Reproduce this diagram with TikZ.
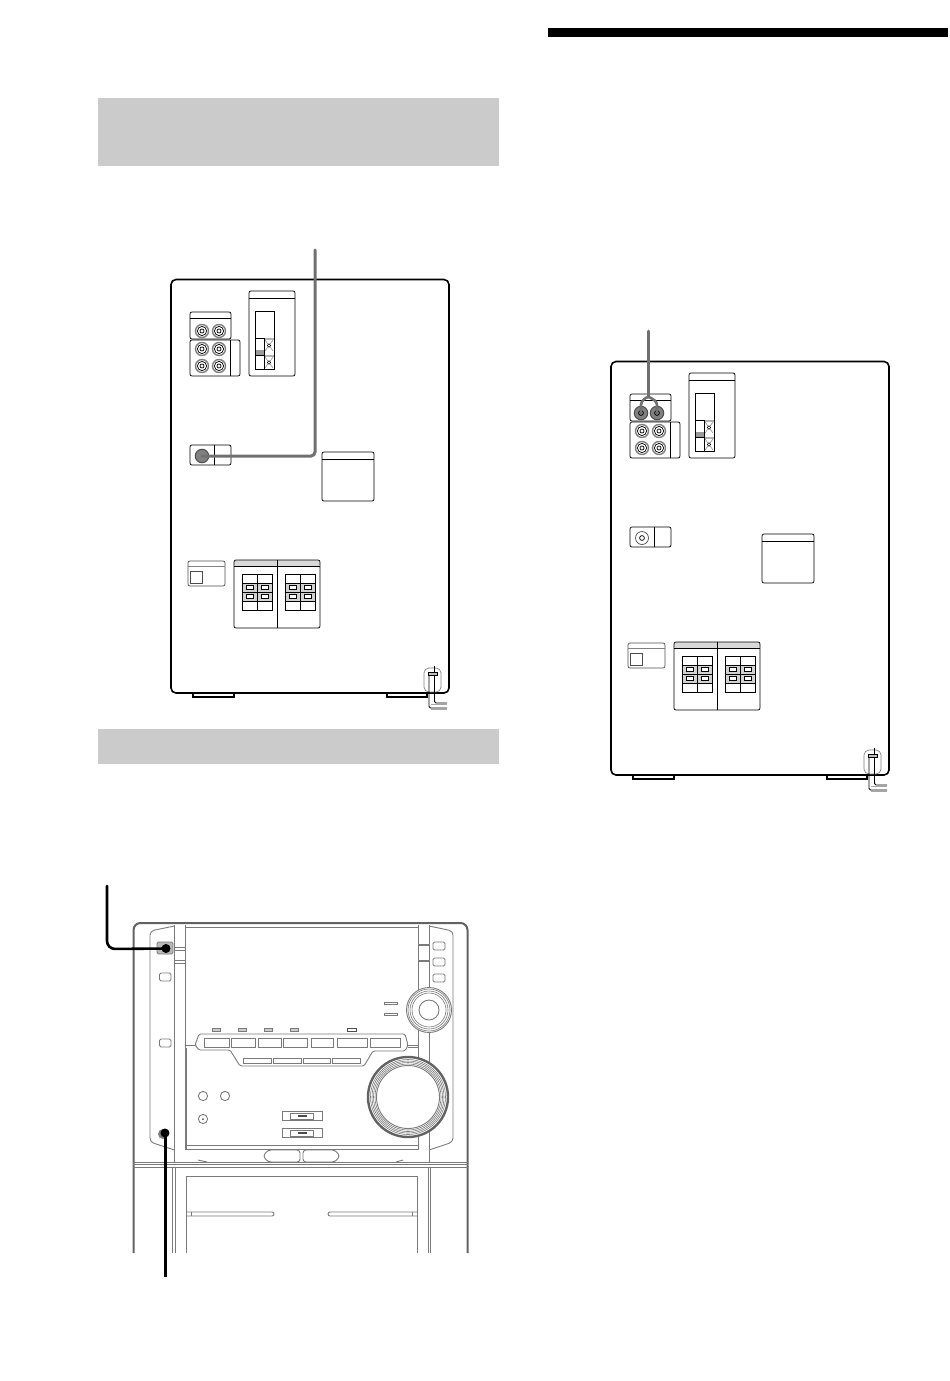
\documentclass[tikz,border=0pt]{standalone}
\usepackage{xcolor}
\definecolor{bargray}{HTML}{CBCBCB}
\definecolor{cablegray}{HTML}{707070}
\definecolor{unitgray}{HTML}{7A7A7A}
\tikzset{
panelbox/.style={draw,rounded corners=2pt,line width=.7pt},
inkline/.style={line width=.8pt},
unitline/.style={draw=unitgray,line width=.9pt},
unitbutton/.style={unitline,rounded corners=1.5pt,fill=white},
jack/.style={circle,draw=gray,fill=white,line width=1.4pt,minimum size=13pt,inner sep=0pt},
jackhot/.style={circle,draw=black!70,fill=gray,line width=1pt,minimum size=13.5pt,inner sep=0pt},
cable/.style={line width=3pt,rounded corners=4pt,line cap=round},
rearpanel/.pic={
  % the cabinet
  \draw[line width=1.6pt,rounded corners=5pt] (171,279.5) rectangle (449,693);
  \draw[line width=1.2pt,fill=white] (193,693.5) -- (193,697) -- (234,697) -- (234,693.5);
  \draw[line width=1.2pt,fill=white] (387,693.5) -- (387,697) -- (427,697) -- (427,693.5);
  % the input blocks
  \draw[panelbox] (190,312) rectangle (231,339);
  \draw[inkline] (190,318) -- (231,318);
  \draw[panelbox] (190,340) rectangle (240,376);
  \draw[inkline] (230,340) -- (230,376);
  \foreach \x/\y/\n in {202/349/c,219/349/d,202/366/e,219/366/f}
  {
    \node[jack] (\n) at (\x,\y) {};
    \draw[line width=.7pt] (\x,\y) circle (4.6);
    \draw[line width=.7pt] (\x,\y) circle (2);
  }
  \draw[panelbox] (249,291) rectangle (295,376);
  \draw[inkline] (249,298) -- (295,298);
  \draw[line width=1pt] (255,311) rectangle (274,369);
  \fill[gray!80] (255.5,350) rectangle (264,355);
  \draw[inkline] (264,338) -- (264,369) (255,355) -- (274,355) (255,338) -- (264,338);
  \foreach \y in {338,355}
  {
    \fill[gray!60] (264.5,\y) rectangle (273.5,\y+2);
    \draw[line width=.5pt,gray] (265,\y+2) -- (273,\y+13) (273,\y+2) -- (265,\y+13);
    \draw[line width=.5pt,fill=white] (269,\y+7.5) circle (1.8);
  }
  % the aerial socket and the blank label
  \draw[panelbox] (190,445) rectangle (231,465);
  \draw[inkline] (214,445) -- (214,465);
  \draw[panelbox] (322,452) rectangle (374,501);
  \draw[inkline,line width=1pt] (322,459) -- (374,459);
  % the voltage block
  \draw[panelbox,draw=black!70] (188,561) rectangle (225,586);
  \draw[inkline,gray] (188,566) -- (225,566);
  \draw[line width=.7pt,gray!60!black] (190,571) rectangle (202,583);
  % the speaker blocks
  \fill[gray!30,rounded corners=2pt] (234,560) rectangle (320,566);
  \draw[panelbox] (234,560) rectangle (320,628);
  \draw[inkline] (234,566) -- (320,566) (277,560) -- (277,628);
  \foreach \gx in {242,285}
  {
    \fill[gray!35] (\gx,583) rectangle (\gx+30,601);
    \draw[line width=1pt] (\gx,574) rectangle (\gx+30,610);
    \draw[line width=1pt] (\gx+15,574) -- (\gx+15,610);
    \draw[line width=.8pt] (\gx,583) -- (\gx+30,583) (\gx,592) -- (\gx+30,592) (\gx,601) -- (\gx+30,601);
    \foreach \cx in {4,19}
      \foreach \cy in {585.5,594.5}
        \draw[line width=.7pt,fill=white] (\gx+\cx,\cy) rectangle (\gx+\cx+7,\cy+4);
  }
  % the mains lead
  \draw[line width=.7pt,gray,rounded corners=5pt] (424,668) rectangle (441,692);
  \draw[line width=.8pt,rounded corners=1.5pt] (429,673) -- (429,708) -- (447,708);
  \draw[line width=.8pt,rounded corners=1.5pt] (434.5,673) -- (434.5,703) -- (447,703);
  \draw[line width=.9pt,gray!70] (431,704.5) -- (447,704.5) (431,709.5) -- (447,709.5);
  \draw[line width=1pt,fill=gray!50] (428,672) rectangle (437,675);
  \draw[line width=.6pt] (434.5,666) -- (434.5,672);
}}
\begin{document}
\begin{tikzpicture}[x=1pt,y=-1pt]
\useasboundingbox (0,0) rectangle (950,1381);
% the bars
\fill (548,28) rectangle (948,37);
\fill[bargray] (98,98) rectangle (499,166);
\fill[bargray] (98,729) rectangle (499,764);
% the two rear views
\pic (rearleft) at (0,0) {rearpanel};
\pic (rearright) at (440,82) {rearpanel};
% the jacks that differ from one view to the other
\foreach \x/\n in {202/a,219/b}
{
  \node[jack] (rearleft-\n) at (\x,331) {};
  \draw[line width=.7pt] (\x,331) circle (4.6);
  \draw[line width=.7pt] (\x,331) circle (2);
}
\node[jackhot] (rearleft-aerial) at (202,456) {};
\node[jackhot] (rearright-a) at (641,413) {};
\node[jackhot] (rearright-b) at (657,413) {};
\draw[inkline] (641,413) circle (2.4) (657,413) circle (2.4);
\node[jack,draw=black!70,line width=.7pt] (rearright-aerial) at (642,538) {};
\draw[line width=.7pt] (642,538) circle (2.4);
% the cables of the rear views
\coordinate (freeleft) at (315,250);
\coordinate (freeright) at (648,331);
\coordinate (forkright) at (648,396);
\draw[cable,cablegray] (rearleft-aerial.center) -- (315,456) -- (freeleft);
\draw[cable,cablegray,rounded corners=1pt] (freeright) -- (forkright);
\draw[cable,cablegray,rounded corners=3pt,line width=2.6pt] (rearright-a.center) -- (641,402) -- (forkright) -- (657,402) -- (rearright-b.center);
% the front view: cabinet
\begin{scope}[unitline]
\draw[line width=2pt,draw=unitgray!80!black,rounded corners=7pt] (133.5,1253) -- (133.5,923) -- (467.5,923) -- (467.5,1253);
\draw (185,927) -- (418,927);
\draw (174.5,925) -- (174.5,1162) (185,925) -- (185,1150);
\draw (418,925) -- (418,1150) (429,925) -- (429,1162);
\draw[rounded corners=4pt] (174.5,926) -- (150,931) -- (150,1142) -- (174.5,1150);
\draw[rounded corners=4pt] (429,926) -- (453,931) -- (453,1142) -- (429,1150);
\draw (175,947) -- (185,947) (175,950) -- (185,950);
\draw (175,960) -- (185,960) (175,963.5) -- (185,963.5);
\draw[line width=1.2pt] (418,945) -- (429,945) (418,961) -- (429,961);
\draw (185,1045) -- (196,1045) (408,1045) -- (418,1045) (408,1047) -- (418,1047);
\draw (186,1048) -- (186,1149) -- (418,1149) (186,1145) -- (418,1145);
% the buttons at the sides
\draw[fill=gray!55,rounded corners=1.5pt] (157,942) rectangle (173,954);
\foreach \y in {977,1043}
  \draw[unitbutton] (159.5,\y-4) rectangle (171,\y+4);
\foreach \y in {946,962,978}
  \draw[unitbutton] (433,\y-4) rectangle (445,\y+4);
% the strip of keys
\draw[rounded corners=1.5pt] (199,1034) -- (405,1034) -- (408,1045) -- (405,1051) -- (373,1051) -- (364,1066) -- (240,1066) -- (230,1050) -- (199,1050) -- (195,1045) -- cycle;
\foreach \a/\b in {204/229,231/255,258/281,283/307,311/333,337/367,370/400}
  \draw (\a,1038) rectangle (\b,1047);
\foreach \a/\b in {243/271,273/301,303/330,332/360}
  \draw (\a,1058) rectangle (\b,1063);
\foreach \x in {216,242,268,294}
  \draw[line width=.7pt,fill=gray!40] (\x-4,1028) rectangle (\x+4,1031);
\draw[line width=.8pt,draw=black!70] (347,1028) rectangle (356,1031);
\draw (384,1002) rectangle (397,1004.5);
\draw (384,1013) rectangle (397,1015.5);
% the small sockets and the slots
\foreach \x/\y in {203/1096,225/1096,203/1119}
  \draw (\x,\y) circle (4.6);
\fill[black!70] (203,1119) circle (1);
\foreach \y in {1111,1128}
{
  \draw (282,\y) rectangle (322,\y+9.5);
  \draw (290,\y+2) rectangle (313,\y+8);
  \draw[line width=1.1pt,draw=black!70] (298,\y+5) -- (307,\y+5);
}
\draw[rounded corners=3pt] (300,1150) -- (268,1150) -- (263,1156) -- (268,1162) -- (300,1162) -- cycle;
\draw[rounded corners=3pt] (303,1150) -- (335,1150) -- (340,1156) -- (335,1162) -- (303,1162) -- cycle;
\draw (133,1162) -- (468,1162) (133,1164.5) -- (468,1164.5) (133,1167) -- (468,1167);
\draw (198,1160) -- (207,1162) (403,1160) -- (396,1162);
% the lower part
\draw (172,1167) -- (172,1253) (175,1167) -- (175,1253) (428,1167) -- (428,1253) (430.5,1167) -- (430.5,1253);
\draw (186,1253) -- (186,1176) -- (417,1176) -- (417,1253);
\draw[rounded corners=2pt] (186,1212) -- (274,1212) -- (274,1216) -- (186,1216);
\draw[rounded corners=2pt] (417,1212) -- (328,1212) -- (328,1216) -- (417,1216);
\draw (191,1212) -- (191,1216) (412,1212) -- (412,1216);
% the knobs
\draw[fill=white] (429,1010) circle (22.5);
\foreach \r in {21,19,17}
  \draw[line width=.6pt] (429,1010) circle (\r);
\draw (429,1010) circle (10);
\draw[fill=white,line width=2.4pt,draw=unitgray!80!black] (408,1097) circle (40);
\foreach \r in {37.5,36,34.5,33}
  \draw[line width=.6pt] (408,1097) circle (\r);
\draw (408,1097) circle (31.5);
\end{scope}
% the cables of the front view
\node[circle,fill=black,minimum size=9pt,inner sep=0pt] (phones) at (166,948.5) {};
\node[circle,fill=gray,minimum size=10pt,inner sep=0pt] (micring) at (163,1134) {};
\node[circle,fill=black,minimum size=9pt,inner sep=0pt] (mic) at (165,1133) {};
\coordinate (freephones) at (107,886);
\coordinate (freemic) at (165,1277);
\draw[cable,line width=2.6pt,rounded corners=8pt] (freephones) -- (107,949) -- (phones.center);
\draw[cable,line cap=butt] (mic.center) -- (freemic);
\end{tikzpicture}
\end{document}
